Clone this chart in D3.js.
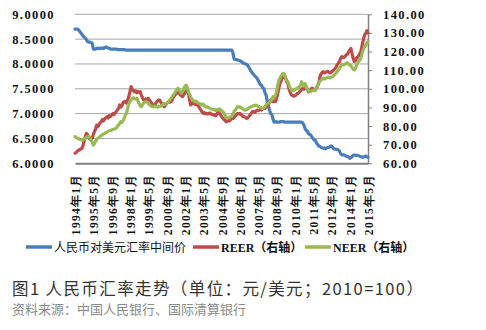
<!DOCTYPE html>
<html><head><meta charset="utf-8">
<script src="https://cdn.jsdelivr.net/npm/d3@7"></script>
<style>
body{margin:0;background:#fff;}
svg{display:block;}
</style></head>
<body>
<script>
// ---------- data ----------
const startYear = 1994, startMonth = 1, monthCount = 257; // 1994年1月 … 2015年5月
const categories = [];
for (let i = 0; i < monthCount; i++) {
  const y = startYear + Math.floor((startMonth - 1 + i) / 12);
  const m = (startMonth - 1 + i) % 12 + 1;
  categories.push(y + "年" + m + "月");
}
const tickLabels = ["1994年1月","1995年5月","1996年9月","1998年1月","1999年5月","2000年9月","2002年1月","2003年5月","2004年9月","2006年1月","2007年5月","2008年9月","2010年1月","2011年5月","2012年9月","2014年1月","2015年5月"];

const seriesNames = ["人民币对美元汇率中间价","REER（右轴）","NEER（右轴）"];

const usdCny = [
8.70,8.70,8.70,8.69,8.66,8.63,8.60,8.57,8.54,8.52,8.49,8.45,
8.44,8.44,8.43,8.42,8.30,8.30,8.30,8.31,8.32,8.31,8.31,8.32,
8.32,8.31,8.33,8.34,8.33,8.32,8.31,8.30,8.30,8.30,8.30,8.30,
8.30,8.29,8.29,8.29,8.29,8.29,8.29,8.29,8.28,8.28,8.28,8.28,
8.28,8.28,8.28,8.28,8.28,8.28,8.28,8.28,8.28,8.28,8.28,8.28,
8.28,8.28,8.28,8.28,8.28,8.28,8.28,8.28,8.28,8.28,8.28,8.28,
8.28,8.28,8.28,8.28,8.28,8.28,8.28,8.28,8.28,8.28,8.28,8.28,
8.28,8.28,8.28,8.28,8.28,8.28,8.28,8.28,8.28,8.28,8.28,8.28,
8.28,8.28,8.28,8.28,8.28,8.28,8.28,8.28,8.28,8.28,8.28,8.28,
8.28,8.28,8.28,8.28,8.28,8.28,8.28,8.28,8.28,8.28,8.28,8.28,
8.28,8.28,8.28,8.28,8.28,8.28,8.28,8.28,8.28,8.28,8.28,8.28,
8.28,8.28,8.28,8.28,8.28,8.28,8.22,8.10,8.09,8.09,8.08,8.07,
8.07,8.05,8.04,8.02,8.01,8.00,7.99,7.97,7.93,7.89,7.85,7.82,
7.79,7.76,7.74,7.72,7.67,7.63,7.58,7.57,7.52,7.50,7.42,7.37,
7.24,7.16,7.07,7.00,6.98,6.89,6.83,6.84,6.83,6.83,6.83,6.83,
6.84,6.84,6.84,6.83,6.83,6.83,6.83,6.83,6.83,6.83,6.83,6.83,
6.83,6.83,6.83,6.83,6.83,6.83,6.83,6.81,6.77,6.70,6.66,6.65,
6.60,6.58,6.57,6.53,6.50,6.47,6.46,6.41,6.38,6.35,6.34,6.32,
6.31,6.30,6.31,6.29,6.31,6.32,6.32,6.34,6.35,6.33,6.29,6.29,
6.28,6.28,6.27,6.25,6.20,6.17,6.17,6.17,6.16,6.14,6.14,6.13,
6.10,6.11,6.13,6.16,6.17,6.16,6.16,6.16,6.15,6.14,6.13,6.12,
6.13,6.13,6.15,6.13,6.12];

const reer = [
65.4,65.8,66.5,66.9,67.4,67.6,68.0,69.5,72.0,74.5,76.1,75.2,
74.0,73.0,72.6,73.4,75.5,77.0,78.5,80.5,79.6,80.8,81.9,82.3,
83.5,82.8,83.9,84.5,85.0,84.3,85.6,85.2,85.9,86.7,86.1,87.0,
87.7,88.6,89.4,91.3,90.2,91.0,92.5,93.1,93.1,92.3,94.0,95.8,
98.5,101.1,99.8,99.0,98.4,98.9,97.9,98.6,98.1,98.4,96.5,95.2,
94.0,93.6,94.5,94.1,94.9,93.8,93.0,92.2,91.4,90.4,91.5,92.6,
93.4,94.0,94.0,92.8,91.6,90.9,90.4,91.2,92.0,92.6,93.0,92.8,
93.1,94.2,95.4,96.3,97.2,97.8,98.4,97.6,96.8,96.2,95.8,96.7,
97.8,98.6,99.3,98.2,94.5,91.3,91.8,92.5,92.0,91.6,92.2,91.4,
90.5,89.5,88.6,87.6,86.8,87.2,86.6,86.8,86.5,86.8,87.0,86.4,
86.2,85.9,86.3,85.5,86.4,87.7,87.0,86.2,85.2,84.4,83.6,83.2,
82.3,82.6,83.2,82.8,83.5,84.1,84.0,84.6,85.3,86.0,86.8,86.5,
86.8,86.2,85.6,85.0,85.0,84.6,84.1,84.4,85.2,86.0,86.8,87.7,
87.7,87.3,88.0,88.6,88.2,88.6,89.0,88.6,89.1,89.5,89.5,90.2,
90.6,91.5,93.2,94.0,93.5,93.1,93.4,93.1,94.5,97.0,100.2,102.9,
104.0,105.8,107.0,107.4,105.5,104.0,102.9,100.0,98.2,96.7,96.5,96.0,
96.2,96.6,97.4,97.6,98.2,99.0,99.6,100.3,99.8,100.5,101.1,99.9,
98.4,98.8,99.5,100.3,100.0,99.6,99.3,100.5,101.5,103.0,106.5,108.0,
108.8,109.2,108.6,108.9,109.2,109.4,108.8,108.5,109.0,109.6,110.1,110.8,
111.5,112.8,113.7,114.5,116.2,117.3,117.0,116.8,117.5,118.2,118.5,119.8,
120.5,121.7,119.0,116.5,114.6,115.2,116.4,117.0,118.0,119.1,120.5,123.8,
126.5,128.9,129.8,131.2,130.0];

const neer = [
74.3,74.0,73.5,73.2,72.9,72.7,72.5,72.8,73.0,73.4,73.9,74.3,
74.3,73.8,72.5,71.2,69.8,70.5,71.8,72.8,73.4,73.9,74.5,75.0,
75.3,75.8,76.1,76.5,76.8,77.2,77.5,77.6,77.9,78.1,78.4,78.6,
78.8,79.8,80.5,81.2,82.3,82.0,83.0,84.2,85.9,87.0,89.5,92.0,
93.2,94.0,94.8,95.2,94.6,94.5,94.9,93.6,92.0,90.9,90.4,91.5,
92.4,92.9,93.1,92.8,92.2,91.5,91.0,90.6,90.4,90.4,90.8,90.5,
90.2,90.6,90.4,90.7,91.0,91.6,92.0,91.7,92.2,92.6,93.3,94.2,
95.0,95.8,96.7,97.6,98.6,99.5,100.3,99.4,98.5,97.6,98.4,100.0,
101.2,102.0,100.8,98.5,97.2,95.8,94.6,94.0,93.5,93.1,93.4,92.7,
92.2,92.0,91.6,91.3,91.8,90.9,90.4,90.0,90.3,89.8,89.5,89.2,
89.0,88.7,88.9,88.4,88.8,88.6,89.2,88.9,88.4,87.8,87.0,86.0,
84.8,84.1,84.3,84.6,85.0,85.2,86.5,87.8,88.6,89.5,90.4,90.1,
90.4,89.9,89.5,89.0,88.6,88.6,88.9,89.3,89.8,90.1,90.4,90.7,
90.8,91.0,91.3,91.0,90.6,90.3,90.0,89.7,89.5,89.8,90.5,91.4,
92.0,92.2,92.8,93.5,94.4,95.8,95.2,96.0,98.0,101.5,104.0,105.6,
106.8,107.8,108.3,107.6,106.0,104.5,103.8,102.0,100.5,99.3,99.4,99.0,
99.6,100.0,100.4,100.3,101.2,101.8,103.8,102.0,101.5,102.9,101.0,99.8,
98.8,98.4,98.6,99.0,99.3,99.0,99.3,100.5,101.8,103.8,104.2,104.6,
105.2,105.6,105.3,105.5,106.0,106.3,106.0,105.8,106.2,106.5,107.0,107.8,
108.4,109.2,110.1,110.8,112.0,113.2,113.0,112.8,113.4,113.7,114.0,113.2,
112.8,112.5,111.5,110.6,110.1,110.9,112.5,113.8,115.0,115.5,116.8,119.5,
121.2,122.6,123.4,124.6,125.3];

const leftTicks = [6.0,6.5,7.0,7.5,8.0,8.5,9.0];
const rightTicks = [60,70,80,90,100,110,120,130,140];
const captionText = "图1 人民币汇率走势（单位：元/美元；2010=100）";
const sourceText = "资料来源：中国人民银行、国际清算银行";

// ---------- drawing ----------
const W = 486, H = 330;
const plot = {left: 75, right: 368, top: 14.3, bottom: 163.3};
const colors = ["#4a7ebb", "#be4b48", "#98b954"];

const svg = d3.select("body").append("svg").attr("width", W).attr("height", H);

const x = d3.scalePoint().domain(categories).range([plot.left, plot.right]);
const yL = d3.scaleLinear().domain([6, 9]).range([plot.bottom, plot.top]);
const yR = d3.scaleLinear().domain([60, 140]).range([plot.bottom, plot.top]);

const numFont = "'Liberation Serif','Times New Roman',serif";

// gridlines
svg.append("g").selectAll("line").data(leftTicks.filter(d => d > 6)).join("line")
  .attr("x1", plot.left).attr("x2", plot.right)
  .attr("y1", d => yL(d)).attr("y2", d => yL(d))
  .attr("stroke", "#a6a6a6").attr("stroke-width", 1);

// left axis labels
const gL = svg.append("g").attr("transform", `translate(${plot.left},0)`)
  .call(d3.axisLeft(yL).tickValues(leftTicks).tickFormat(d3.format(".4f")).tickSize(0).tickPadding(20));
gL.select(".domain").remove();
gL.selectAll("text").attr("font-family", numFont).attr("font-weight", "bold")
  .attr("font-size", 12.5).attr("letter-spacing", 1.4).attr("fill", "#111");

// right axis
const gR = svg.append("g").attr("transform", `translate(${plot.right},0)`)
  .call(d3.axisRight(yR).tickValues(rightTicks).tickFormat(d3.format(".2f")).tickSizeOuter(0).tickSizeInner(4).tickPadding(11));
gR.select(".domain").attr("stroke", "#808080").attr("stroke-width", 1.5);
gR.selectAll(".tick line").attr("stroke", "#808080");
gR.selectAll("text").attr("font-family", numFont).attr("font-weight", "bold")
  .attr("font-size", 12.5).attr("letter-spacing", 1.4).attr("fill", "#111");

// bottom axis
const gB = svg.append("g").attr("transform", `translate(0,${plot.bottom})`)
  .call(d3.axisBottom(x).tickValues(tickLabels).tickSize(0).tickSizeOuter(0).tickPadding(0));
gB.select(".domain").attr("stroke", "#808080").attr("stroke-width", 2);
gB.selectAll("text")
  .attr("font-family", numFont).attr("font-weight", "bold").attr("font-size", 11.5)
  .attr("letter-spacing", 1.3).attr("fill", "#111")
  .attr("text-anchor", "end").attr("dy", null).attr("y", 0)
  .attr("transform", "translate(4.5,10) rotate(-90)");

// lines
const lineL = d3.line().x((d, i) => x(categories[i])).y(d => yL(d));
const lineR = d3.line().x((d, i) => x(categories[i])).y(d => yR(d));
const seriesData = [[usdCny, lineL], [reer, lineR], [neer, lineR]];
seriesData.forEach(([vals, gen], k) => {
  svg.append("path").datum(vals).attr("d", gen)
    .attr("fill", "none").attr("stroke", colors[k]).attr("stroke-width", 3.2)
    .attr("stroke-linejoin", "round").attr("stroke-linecap", "round");
});

// legend
const legendPos = [26, 193, 305];
const leg = svg.append("g").attr("transform", "translate(0,247)");
seriesNames.forEach((name, k) => {
  leg.append("line").attr("x1", legendPos[k]).attr("x2", legendPos[k] + 26)
    .attr("y1", 0).attr("y2", 0).attr("stroke", colors[k]).attr("stroke-width", 3.5);
  leg.append("text").attr("x", legendPos[k] + 28).attr("y", 4.5)
    .attr("font-family", numFont + ",'Noto Sans CJK SC'").attr("font-weight", k === 0 ? "normal" : "bold")
    .attr("font-size", 12).attr("fill", "#111").text(name);
});

// caption and source
svg.append("text").attr("x", 12).attr("y", 295)
  .attr("font-family", "'Noto Sans CJK SC','Noto Sans',sans-serif").attr("font-size", 16.5)
  .attr("letter-spacing", 1.4).attr("fill", "#333").text(captionText);
svg.append("text").attr("x", 12).attr("y", 314)
  .attr("font-family", "'Noto Sans CJK SC','Noto Sans',sans-serif").attr("font-size", 13)
  .attr("fill", "#8a8a8a").text(sourceText);
</script>
</body></html>
